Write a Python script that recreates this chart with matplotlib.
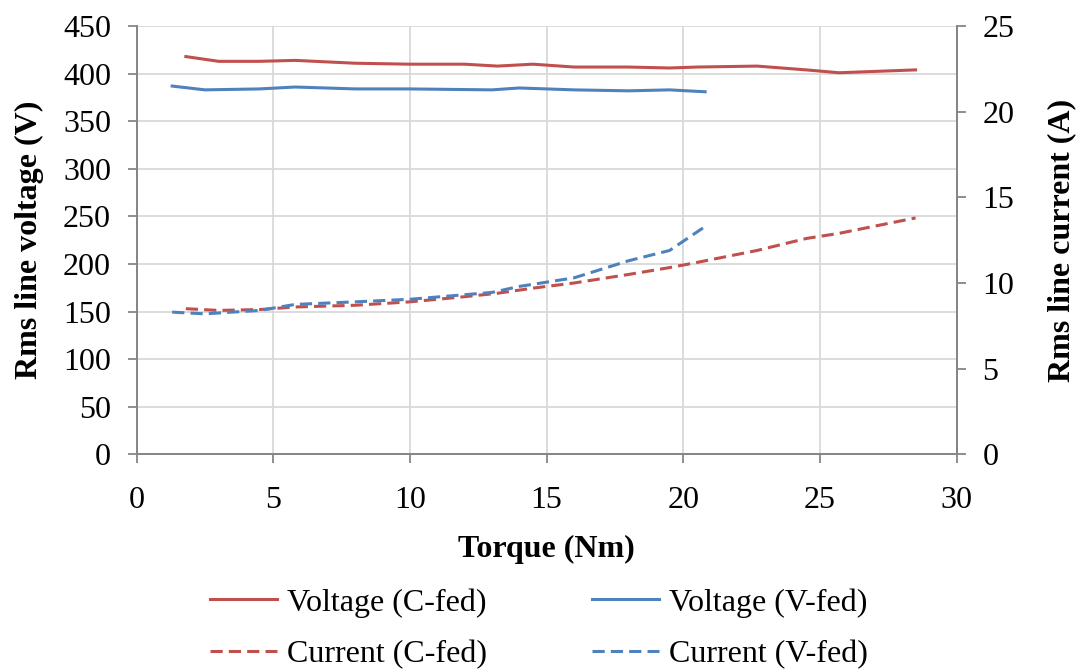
import numpy as np
import matplotlib
matplotlib.use('Agg')
import matplotlib.pyplot as plt

plt.rcParams['font.family'] = ['Liberation Serif', 'DejaVu Serif']

# torque (Nm) and values
tq_c = [1.8, 3.0, 4.5, 5.8, 8.0, 10.0, 12.0, 13.2, 14.5, 16.0, 18.0, 19.5, 20.5, 22.7, 24.5, 25.7, 28.5]
volt_c = [418, 413, 413, 414, 411, 410, 410, 408, 410, 407, 407, 406, 407, 408, 404, 401, 404]
curr_c = [8.5, 8.4, 8.45, 8.6, 8.7, 8.9, 9.2, 9.4, 9.7, 10.0, 10.5, 10.9, 11.2, 11.9, 12.6, 12.9, 13.8]

tq_v = [1.3, 2.5, 4.5, 5.8, 8.0, 10.0, 13.0, 14.0, 16.0, 18.0, 19.5, 20.8]
volt_v = [387, 383, 384, 386, 384, 384, 383, 385, 383, 382, 383, 381]
curr_v = [8.3, 8.2, 8.4, 8.75, 8.9, 9.05, 9.45, 9.8, 10.3, 11.3, 11.9, 13.3]

red = '#C0504D'
blue = '#4F81BD'
spine_col = '#868686'
fs = 23

fig = plt.figure(figsize=(10.76, 6.7), dpi=100)
ax = fig.add_axes([0.127, 0.322, 0.762, 0.639])
ax2 = ax.twinx()

dash = (0, (4, 2))
l1, = ax.plot(tq_c, volt_c, color=red, lw=2.2, label='Voltage (C-fed)')
l2, = ax.plot(tq_v, volt_v, color=blue, lw=2.2, label='Voltage (V-fed)')
l3, = ax2.plot(tq_c, curr_c, color=red, lw=2.2, ls=dash, label='Current (C-fed)')
l4, = ax2.plot(tq_v, curr_v, color=blue, lw=2.2, ls=dash, label='Current (V-fed)')

ax.set_xlim(0, 30)
ax.set_ylim(0, 450)
ax2.set_ylim(0, 25)
ax.set_xticks(np.arange(0, 31, 5))
ax.set_yticks(np.arange(0, 451, 50))
ax2.set_yticks(np.arange(0, 26, 5))

ax.grid(True, color='#D9D9D9', lw=1.3)
ax.set_axisbelow(True)

for a in (ax, ax2):
    a.spines['top'].set_visible(False)
    for s in ('left', 'right', 'bottom'):
        a.spines[s].set_color(spine_col)
        a.spines[s].set_linewidth(1.3)
    a.tick_params(colors=spine_col, labelcolor='black', labelsize=fs, length=6.5, width=1.3)
ax.tick_params(axis='x', pad=16)
ax.tick_params(axis='y', pad=12)
ax2.tick_params(axis='y', pad=12)

ax.set_xlabel('Torque (Nm)', fontsize=fs, fontweight='bold', labelpad=15)
ax.set_ylabel('Rms line voltage (V)', fontsize=fs, fontweight='bold', labelpad=14)
ax2.set_ylabel('Rms line current (A)', fontsize=fs, fontweight='bold', labelpad=24)

fig.legend([l1, l3, l2, l4], [h.get_label() for h in (l1, l3, l2, l4)],
           ncol=2, loc='center', bbox_to_anchor=(0.501, 0.062), frameon=False,
           fontsize=fs, handlelength=2.1, handletextpad=0.3, columnspacing=3.3,
           labelspacing=0.68, borderpad=0)

fig.savefig('out.png', dpi=100)
